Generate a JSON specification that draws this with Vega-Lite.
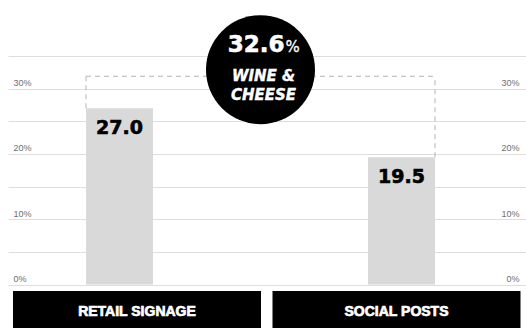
{
  "$schema": "https://vega.github.io/schema/vega-lite/v6.json",
  "autosize": {"type": "pad"},
  "padding": {"left": 8, "top": 15, "right": 0, "bottom": 0},
  "bounds": "flush",
  "spacing": 6,
  "background": "white",
  "config": {"view": {"stroke": null}},
  "datasets": {
    "bars": [
      {"channel": "RETAIL SIGNAGE", "share": 27.0, "label": "27.0"},
      {"channel": "SOCIAL POSTS", "share": 19.5, "label": "19.5"}
    ],
    "highlight": [
      {"channel": "WINE & CHEESE", "share": 32.6, "label": "32.6"}
    ],
    "bracket": [
      {"start": "RETAIL SIGNAGE", "end": "SOCIAL POSTS", "level": 31.9, "startShare": 27.0, "endShare": 19.5}
    ],
    "channels": [
      {"channel": "RETAIL SIGNAGE"},
      {"channel": "SOCIAL POSTS"}
    ]
  },
  "vconcat": [
    {
      "width": 518,
      "height": 228.5,
      "layer": [
        {
          "data": {"name": "bars"},
          "mark": {"type": "bar", "color": "#d9d9d9"},
          "encoding": {
            "x": {"field": "channel", "type": "nominal", "sort": null, "axis": null,
                  "scale": {"type": "band", "domain": ["RETAIL SIGNAGE", "WINE & CHEESE", "SOCIAL POSTS"], "paddingInner": 0.5248, "paddingOuter": 0.5993, "align": 0.4615}},
            "y": {"field": "share", "type": "quantitative",
                  "scale": {"domain": [0, 35], "nice": false, "zero": true},
                  "axis": {"orient": "left", "values": [0, 5, 10, 15, 20, 25, 30, 35], "grid": true, "gridColor": "#dedede", "gridWidth": 1,
                           "domain": false, "ticks": false, "labelAlign": "left", "labelPadding": -5, "labelBaseline": "alphabetic", "labelOffset": -3,
                           "labelFont": "Liberation Sans", "labelFontSize": 9, "labelColor": "#6e6e6e", "labelOverlap": false,
                           "labelExpr": "datum.value % 10 === 0 ? datum.value + '%' : ''", "title": null}}
          }
        },
        {
          "data": {"name": "bracket"},
          "mark": {"type": "rule", "color": "#b3b3b3", "strokeWidth": 1, "strokeDash": [5, 4]},
          "encoding": {
            "x": {"field": "start", "type": "nominal", "bandPosition": 0, "scale": {"type": "band"}, "axis": null},
            "y": {"field": "startShare", "type": "quantitative", "axis": null},
            "y2": {"field": "level"}
          }
        },
        {
          "data": {"name": "bracket"},
          "mark": {"type": "rule", "color": "#b3b3b3", "strokeWidth": 1, "strokeDash": [5, 4]},
          "encoding": {
            "x": {"field": "end", "type": "nominal", "bandPosition": 1, "scale": {"type": "band"}, "axis": null},
            "y": {"field": "endShare", "type": "quantitative", "axis": null},
            "y2": {"field": "level"}
          }
        },
        {
          "data": {"name": "bracket"},
          "mark": {"type": "rule", "color": "#b3b3b3", "strokeWidth": 1, "strokeDash": [5, 4]},
          "encoding": {
            "x": {"field": "start", "type": "nominal", "bandPosition": 0, "scale": {"type": "band"}, "axis": null},
            "x2": {"field": "end", "bandPosition": 1},
            "y": {"field": "level", "type": "quantitative", "axis": null}
          }
        },
        {
          "data": {"name": "highlight"},
          "mark": {"type": "point", "shape": "circle", "filled": true, "color": "black", "opacity": 1, "size": 11882, "yOffset": -2},
          "encoding": {
            "x": {"field": "channel", "type": "nominal", "scale": {"type": "band"}, "axis": null},
            "y": {"field": "share", "type": "quantitative", "axis": null}
          }
        },
        {
          "data": {"name": "highlight"},
          "mark": {"type": "text", "color": "white", "font": "DejaVu Sans", "fontWeight": "bold", "fontSize": 23, "align": "right", "baseline": "alphabetic", "dx": 24, "dy": -20, "stroke": "white", "strokeWidth": 0.6},
          "encoding": {
            "x": {"field": "channel", "type": "nominal", "scale": {"type": "band"}, "axis": null},
            "y": {"field": "share", "type": "quantitative", "axis": null},
            "text": {"field": "label"}
          }
        },
        {
          "data": {"name": "highlight"},
          "mark": {"type": "text", "color": "white", "font": "DejaVu Sans", "fontWeight": "normal", "fontSize": 15, "align": "left", "baseline": "alphabetic", "dx": 25, "dy": -20, "stroke": "white", "strokeWidth": 0.3},
          "encoding": {
            "x": {"field": "channel", "type": "nominal", "scale": {"type": "band"}, "axis": null},
            "y": {"field": "share", "type": "quantitative", "axis": null},
            "text": {"value": "%"}
          }
        },
        {
          "data": {"name": "highlight"},
          "mark": {"type": "text", "color": "white", "font": "DejaVu Sans", "fontWeight": "bold", "fontStyle": "italic", "fontSize": 15, "align": "center", "baseline": "middle", "dx": 3, "dy": 4, "lineHeight": 19, "stroke": "white", "strokeWidth": 0.4},
          "encoding": {
            "x": {"field": "channel", "type": "nominal", "scale": {"type": "band"}, "axis": null},
            "y": {"field": "share", "type": "quantitative", "axis": null},
            "text": {"value": ["WINE &", "CHEESE"]}
          }
        },
        {
          "data": {"name": "bars"},
          "mark": {"type": "text", "color": "black", "font": "DejaVu Sans", "fontWeight": "bold", "fontSize": 19, "align": "center", "baseline": "middle", "dy": 20, "stroke": "black", "strokeWidth": 0.6},
          "encoding": {
            "x": {"field": "channel", "type": "nominal", "scale": {"type": "band"}, "axis": null},
            "y": {"field": "share", "type": "quantitative",
                  "axis": {"orient": "right", "values": [0, 10, 20, 30], "grid": false, "domain": false, "ticks": false,
                           "labelAlign": "right", "labelPadding": -7, "labelBaseline": "alphabetic", "labelOffset": -3,
                           "labelFont": "Liberation Sans", "labelFontSize": 9, "labelColor": "#6e6e6e", "labelOverlap": false,
                           "labelExpr": "datum.value + '%'", "title": null}},
            "text": {"field": "label"}
          }
        }
      ],
      "resolve": {"axis": {"y": "independent"}}
    },
    {
      "width": 518,
      "height": 42,
      "data": {"name": "channels"},
      "layer": [
        {
          "mark": {"type": "rect", "color": "black"},
          "encoding": {
            "x": {"field": "channel", "type": "nominal", "sort": null, "axis": null,
                  "scale": {"type": "band", "domain": ["RETAIL SIGNAGE", "SOCIAL POSTS"], "paddingInner": 0.0443, "paddingOuter": 0.0202, "align": 0.476}},
            "y": {"datum": 0, "type": "quantitative", "scale": {"domain": [0, 1], "nice": false}, "axis": null},
            "y2": {"datum": 1}
          }
        },
        {
          "mark": {"type": "text", "color": "white", "font": "Liberation Sans", "fontWeight": "bold", "fontSize": 14, "align": "center", "baseline": "middle", "stroke": "white", "strokeWidth": 0.7},
          "encoding": {
            "x": {"field": "channel", "type": "nominal", "sort": null, "axis": null, "scale": {"type": "band"}},
            "y": {"datum": 0.5, "type": "quantitative", "axis": null},
            "text": {"field": "channel"}
          }
        }
      ]
    }
  ],
  "resolve": {"scale": {"x": "independent", "y": "independent"}}
}
